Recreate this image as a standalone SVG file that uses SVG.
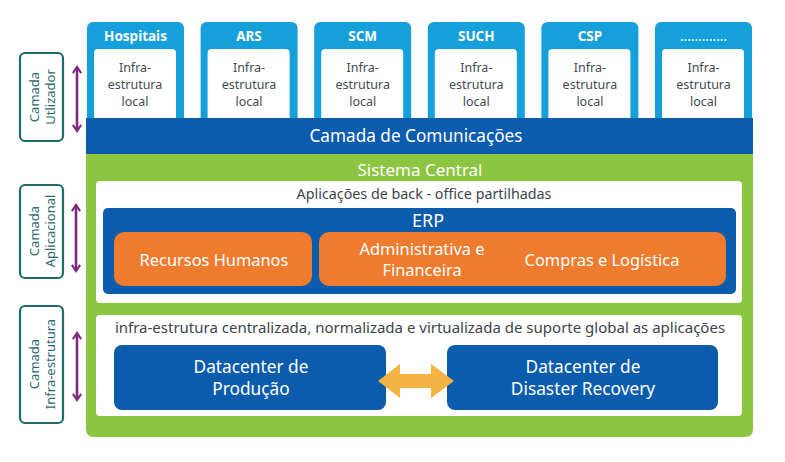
<svg xmlns="http://www.w3.org/2000/svg" width="785" height="462" viewBox="0 0 785 462">
<defs>
<style>
text{font-family:"Noto Sans","DejaVu Sans",sans-serif;text-anchor:middle}
.top{fill:#16a0db}
.inner{fill:#ffffff}
.tt{fill:#ffffff;font-size:13.5px;font-weight:bold}
.it{fill:#444b52;font-size:12.5px}
.dark{fill:#0b5cad}
.wt{fill:#ffffff}
.gt{fill:#3d444b}
.orange{fill:#ef7b2e}
.side{fill:#ffffff;stroke:#1d6b6b;stroke-width:2.2}
.st{fill:#2e6b70;font-size:13px}
.parr{stroke:#7a2a80;stroke-width:2.6;fill:none}
.ob{font-size:16.4px}
.dc{font-size:17.3px}
</style>
<marker id="ph" viewBox="0 0 10 10" refX="5" refY="5" markerWidth="4" markerHeight="4" orient="auto-start-reverse"><path d="M1,1 L7,5 L1,9" fill="none" stroke="#7a2a80" stroke-width="2"/></marker>
</defs>
<rect width="785" height="462" fill="#ffffff"/>

<g id="hospitais"><rect class="top" x="87" y="22" width="97" height="110" rx="6"/><rect class="inner" x="94" y="49" width="82" height="75" rx="4"/><text class="tt" x="135.5" y="41">Hospitais</text><text class="it" x="135" y="72">Infra-</text><text class="it" x="135" y="89">estrutura</text><text class="it" x="135" y="106">local</text></g>
<g id="ars"><rect class="top" x="200.6" y="22" width="97" height="110" rx="6"/><rect class="inner" x="207.6" y="49" width="82" height="75" rx="4"/><text class="tt" x="249" y="41">ARS</text><text class="it" x="249" y="72">Infra-</text><text class="it" x="249" y="89">estrutura</text><text class="it" x="249" y="106">local</text></g>
<g id="scm"><rect class="top" x="314.2" y="22" width="97" height="110" rx="6"/><rect class="inner" x="321.2" y="49" width="82" height="75" rx="4"/><text class="tt" x="362.7" y="41">SCM</text><text class="it" x="362.7" y="72">Infra-</text><text class="it" x="362.7" y="89">estrutura</text><text class="it" x="362.7" y="106">local</text></g>
<g id="such"><rect class="top" x="427.8" y="22" width="97" height="110" rx="6"/><rect class="inner" x="434.8" y="49" width="82" height="75" rx="4"/><text class="tt" x="476.3" y="41">SUCH</text><text class="it" x="476.3" y="72">Infra-</text><text class="it" x="476.3" y="89">estrutura</text><text class="it" x="476.3" y="106">local</text></g>
<g id="csp"><rect class="top" x="541.4" y="22" width="97" height="110" rx="6"/><rect class="inner" x="548.4" y="49" width="82" height="75" rx="4"/><text class="tt" x="589.9" y="41">CSP</text><text class="it" x="589.9" y="72">Infra-</text><text class="it" x="589.9" y="89">estrutura</text><text class="it" x="589.9" y="106">local</text></g>
<g id="outros"><rect class="top" x="655" y="22" width="97" height="110" rx="6"/><rect class="inner" x="662" y="49" width="82" height="75" rx="4"/><text class="tt" x="703.5" y="41" style="font-weight:normal">.............</text><text class="it" x="703.5" y="72">Infra-</text><text class="it" x="703.5" y="89">estrutura</text><text class="it" x="703.5" y="106">local</text></g>

<g id="sistema-central"><path d="M86,150 H753 V429 Q753,437 745,437 H94 Q86,437 86,429 Z" fill="#8cc540"/><text class="wt" x="420" y="176" style="font-size:17px">Sistema Central</text></g>

<g id="comunicacoes"><rect class="dark" x="86" y="118" width="667" height="36"/><text class="wt" x="416" y="142" style="font-size:17.2px">Camada de Comunicações</text></g>

<g id="aplicacoes"><rect x="96" y="181" width="646" height="122" rx="4" fill="#ffffff"/><text class="gt" x="424" y="199" style="font-size:14.3px">Aplicações de back - office partilhadas</text></g>
<g id="erp"><rect class="dark" x="103" y="208" width="633" height="86" rx="5"/><text class="wt" x="428" y="227" style="font-size:18px">ERP</text></g>
<g id="rh"><rect class="orange" x="114" y="232" width="198" height="54" rx="10"/><text class="wt ob" x="214" y="266">Recursos Humanos</text></g>
<g id="adm-compras"><rect class="orange" x="319" y="232" width="407" height="54" rx="10"/><text class="wt ob" x="422" y="255">Administrativa e</text><text class="wt ob" x="422" y="276">Financeira</text><text class="wt ob" x="602" y="266">Compras e Logística</text></g>

<g id="infra-central"><rect x="96" y="315" width="646" height="101" rx="4" fill="#ffffff"/><text class="gt" x="420" y="333" style="font-size:15px">infra-estrutura centralizada, normalizada e virtualizada de suporte global as aplicações</text></g>
<g id="dc-producao"><rect class="dark" x="114" y="345" width="272" height="65" rx="8"/><text class="wt dc" x="251" y="373">Datacenter de</text><text class="wt dc" x="251" y="395">Produção</text></g>
<g id="dc-recovery"><rect class="dark" x="447" y="345" width="271" height="65" rx="8"/><text class="wt dc" x="583" y="373">Datacenter de</text><text class="wt dc" x="583" y="395">Disaster Recovery</text></g>

<g id="camada-utilizador"><rect class="side" x="20" y="53" width="43" height="88" rx="5"/><text class="st" transform="translate(41.5,97) rotate(-90)"><tspan x="0" y="-3">Camada</tspan><tspan x="0" y="13">Utlizador</tspan></text></g>
<g id="camada-aplicacional"><rect class="side" x="20" y="185" width="43" height="93" rx="5"/><text class="st" transform="translate(41.5,231) rotate(-90)"><tspan x="0" y="-3">Camada</tspan><tspan x="0" y="13">Aplicacional</tspan></text></g>
<g id="camada-infra"><rect class="side" x="20" y="306" width="43" height="117" rx="5"/><text class="st" transform="translate(41.5,364) rotate(-90)"><tspan x="0" y="-3">Camada</tspan><tspan x="0" y="13">Infra-estrutura</tspan></text></g>

<g id="connectors">
<line class="parr" x1="77" y1="69" x2="77" y2="129" marker-start="url(#ph)" marker-end="url(#ph)"/>
<line class="parr" x1="76" y1="207" x2="76" y2="269" marker-start="url(#ph)" marker-end="url(#ph)"/>
<line class="parr" x1="77" y1="335" x2="77" y2="398" marker-start="url(#ph)" marker-end="url(#ph)"/>
<path d="M378,381 L400,364 L400,374 L431,374 L431,364 L454,381 L431,398 L431,388 L400,388 L400,398 Z" fill="#f5b441"/>
</g>
</svg>
